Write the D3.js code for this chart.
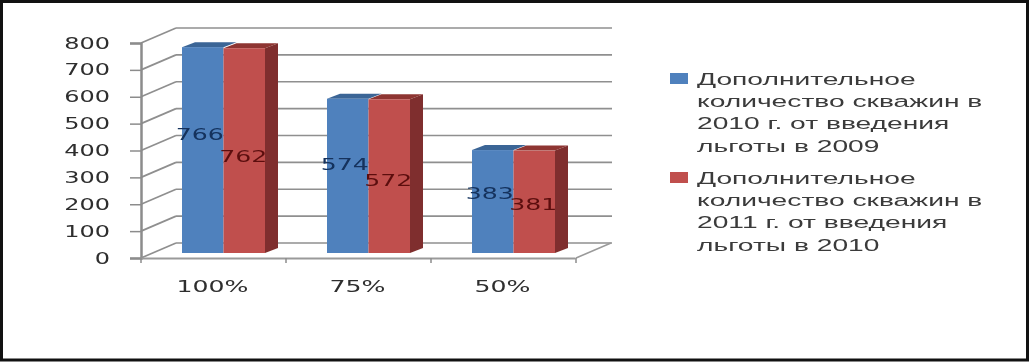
<!DOCTYPE html>
<html>
<head>
<meta charset="utf-8">
<script src="https://cdn.jsdelivr.net/npm/d3@7"></script>
<style>
  html, body { margin: 0; padding: 0; background: #fff; }
  svg { display: block; }
  text { font-family: "DejaVu Sans", sans-serif; }
</style>
</head>
<body>
<script>
const categories = ["100%", "75%", "50%"];
const seriesNames = ["s2010", "s2011"];
const values2010 = [766, 574, 383];
const values2011 = [762, 572, 381];
const yTicks = [0, 100, 200, 300, 400, 500, 600, 700, 800];
const legend2010 = ["Дополнительное", "количество скважин в", "2010 г. от введения", "льготы в 2009"];
const legend2011 = ["Дополнительное", "количество скважин в", "2011 г. от введения", "льготы в 2010"];

const W = 1030;
const H = 362;
const Xleft = 141;
const Xright = 576;
const Ybottom = 258;
const Ytop = 43;
const wallX = 35;
const wallY = 15;
const barSink = 5;
const depthX = 13;
const depthY = 5;
const stretch = 1.5;
const labelStretch = 1.68;

const svg = d3.select("body")
  .append("svg")
  .attr("width", W)
  .attr("height", H);

svg.append("rect")
  .attr("x", 1.5)
  .attr("y", 1.5)
  .attr("width", W - 4)
  .attr("height", H - 3.5)
  .attr("fill", "#fff")
  .attr("stroke", "#111")
  .attr("stroke-width", 3);

const defs = svg.append("defs");
defs.append("filter")
  .attr("id", "soft")
  .append("feGaussianBlur")
  .attr("stdDeviation", 0.5);

const chart = svg.append("g").attr("filter", "url(#soft)");

const yScale = d3.scaleLinear()
  .domain([0, 800])
  .range([Ybottom, Ytop]);

const xScale = d3.scaleBand()
  .domain(categories)
  .range([Xleft, Xright]);

const xInner = d3.scaleBand()
  .domain(seriesNames)
  .range([41, 124]);

// back wall and the slanted lines of the side wall
yTicks.forEach(t => {
  chart.append("line")
    .attr("x1", Xleft + wallX)
    .attr("x2", Xright + wallX + 1)
    .attr("y1", yScale(t) - wallY)
    .attr("y2", yScale(t) - wallY)
    .attr("stroke", "#8f8f8f")
    .attr("stroke-width", 1.7);
  chart.append("line")
    .attr("x1", Xleft)
    .attr("x2", Xleft + wallX)
    .attr("y1", yScale(t))
    .attr("y2", yScale(t) - wallY)
    .attr("stroke", "#8f8f8f")
    .attr("stroke-width", 1.7);
});

// floor
chart.append("line")
  .attr("x1", Xright)
  .attr("x2", Xright + wallX)
  .attr("y1", Ybottom)
  .attr("y2", Ybottom - wallY)
  .attr("stroke", "#9a9a9a")
  .attr("stroke-width", 1.5);

const yAxis = d3.axisLeft(yScale)
  .tickValues(yTicks)
  .tickSize(11)
  .tickPadding(20);

const yG = chart.append("g")
  .attr("transform", `translate(${Xleft},0)`)
  .call(yAxis);

yG.select(".domain").attr("stroke", "#8c8c8c").attr("stroke-width", 2.5);
yG.selectAll(".tick line").attr("stroke", "#8c8c8c").attr("stroke-width", 1.5);
yG.selectAll(".tick text")
  .attr("x", -31 / stretch)
  .attr("transform", `scale(${stretch},1)`)
  .style("font-size", "16px")
  .attr("fill", "#2e2e2e");

const xAxis = d3.axisBottom(xScale)
  .tickSize(0)
  .tickPadding(23);

const xG = chart.append("g")
  .attr("transform", `translate(-1,${Ybottom})`)
  .call(xAxis);

xG.select(".domain").attr("stroke", "#9a9a9a").attr("stroke-width", 2);
xG.selectAll(".tick text")
  .attr("transform", `scale(${labelStretch},1)`)
  .style("font-size", "15px")
  .attr("fill", "#2e2e2e");

// tick marks sit on the category borders
categories.concat([null]).forEach(c => {
  const tx = c === null ? Xright : xScale(c);
  chart.append("line")
    .attr("x1", tx)
    .attr("x2", tx)
    .attr("y1", Ybottom)
    .attr("y2", Ybottom + 5)
    .attr("stroke", "#8c8c8c")
    .attr("stroke-width", 1.5);
});

const barY = v => yScale(v) - barSink;

function drawBars(name, vals, front, top, side, labelCol, labelPos, labelShift) {
  const g = chart.append("g").attr("class", name);
  const bw = xInner.bandwidth();

  g.selectAll(".top")
    .data(vals)
    .enter()
    .append("polygon")
    .attr("class", "top")
    .attr("fill", top)
    .attr("points", (d, i) => {
      const x = xScale(categories[i]) + xInner(name);
      const y = barY(d);
      return [[x, y], [x + depthX, y - depthY], [x + bw + depthX, y - depthY], [x + bw, y]].join(" ");
    });

  if (side) {
    g.selectAll(".side")
      .data(vals)
      .enter()
      .append("polygon")
      .attr("class", "side")
      .attr("fill", side)
      .attr("points", (d, i) => {
        const x = xScale(categories[i]) + xInner(name) + bw;
        const y = barY(d);
        return [[x, y], [x + depthX, y - depthY], [x + depthX, barY(0) - depthY], [x, barY(0)]].join(" ");
      });
  }

  g.selectAll(".front")
    .data(vals)
    .enter()
    .append("rect")
    .attr("class", "front")
    .attr("fill", front)
    .attr("x", (d, i) => xScale(categories[i]) + xInner(name))
    .attr("y", d => barY(d))
    .attr("width", bw)
    .attr("height", d => barY(0) - barY(d));

  return (g2) => {
    g2.selectAll(`.lbl-${name}`)
      .data(vals)
      .enter()
      .append("text")
      .attr("class", `lbl-${name}`)
      .attr("text-anchor", "middle")
      .attr("dy", "0.35em")
      .attr("transform", (d, i) => {
        const x = xScale(categories[i]) + xInner(name) + bw / 2 + labelShift;
        return `translate(${x},${barY(d * labelPos)}) scale(${labelStretch},1)`;
      })
      .style("font-size", "15px")
      .attr("fill", labelCol)
      .text(d => d);
  };
}

const labelsA = drawBars("s2010", values2010, "#4f81bd", "#3b6596", null, "#12305c", 0.575, -3);
const labelsB = drawBars("s2011", values2011, "#c0504d", "#8e3431", "#7f2f2d", "#5c1010", 0.47, -1);
labelsA(chart);
labelsB(chart);

// legend
function drawLegend(lines, color, y0) {
  const g = chart.append("g").attr("transform", `translate(670,${y0})`);
  g.append("rect")
    .attr("x", 0)
    .attr("y", -6)
    .attr("width", 18)
    .attr("height", 11)
    .attr("fill", color);
  lines.forEach((line, i) => {
    g.append("text")
      .attr("transform", `translate(27,${i * 22.2}) scale(1.66,1)`)
      .attr("dy", "0.35em")
      .style("font-family", "'Liberation Sans', sans-serif")
      .style("font-size", "17px")
      .attr("fill", "#3a3a3a")
      .text(line);
  });
}

drawLegend(legend2010, "#4f81bd", 79);
drawLegend(legend2011, "#c0504d", 178);
</script>
</body>
</html>
